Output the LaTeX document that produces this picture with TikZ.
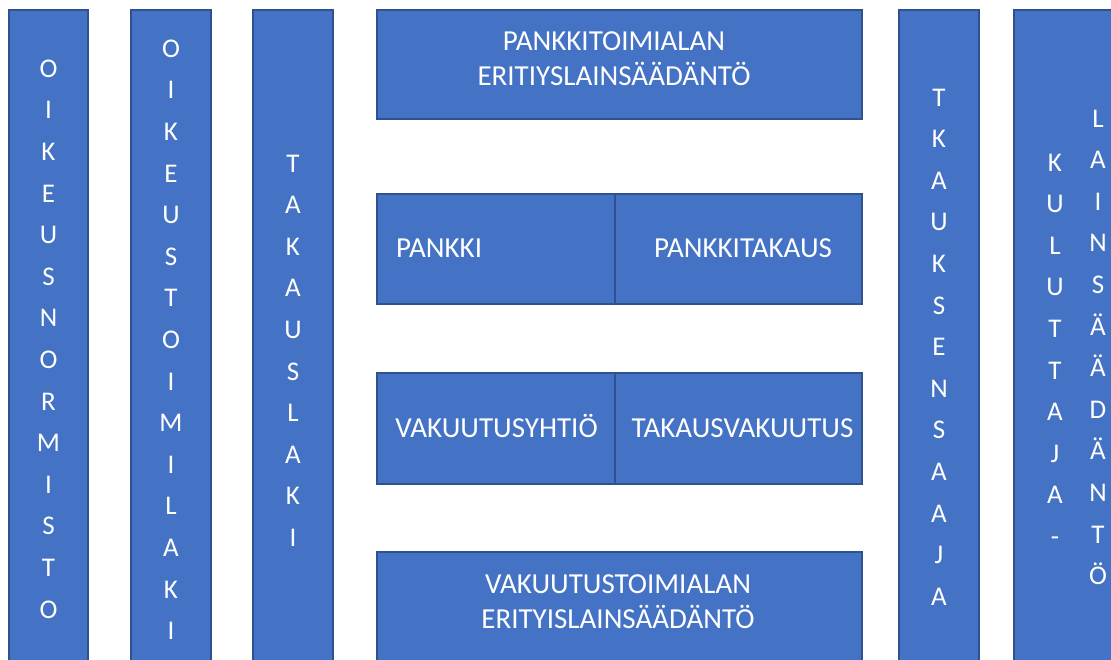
\documentclass[tikz,border=0pt]{standalone}
\usepackage{fontspec}
\setmainfont{Carlito}
\definecolor{boxfill}{HTML}{4472C4}
\definecolor{boxline}{HTML}{2F528F}
\begin{document}
\begin{tikzpicture}[x=1pt,y=-1pt,
  blk/.style={draw=boxline, fill=boxfill, line width=1.8pt, inner sep=0pt, rectangle},
  vtxt/.style={text=white, font=\fontsize{27}{41.6}\selectfont, align=center, inner sep=0pt, anchor=north},
  htxt/.style={text=white, font=\fontsize{29}{35}\selectfont, align=center, inner sep=0pt}]
\useasboundingbox (0,0) rectangle (1111,659);
\clip (0,0) rectangle (1111,659);
% columns
\node[blk, minimum width=79pt, minimum height=665pt] (c1) at (48.5,342.5) {};
\node[blk, minimum width=80pt, minimum height=665pt] (c2) at (171,342.5) {};
\node[blk, minimum width=80pt, minimum height=665pt] (c3) at (293,342.5) {};
\node[blk, minimum width=80pt, minimum height=665pt] (c4) at (939,342.5) {};
\node[blk, minimum width=116pt, minimum height=665pt] (c5) at (1072,342.5) {};
% middle boxes
\node[blk, minimum width=485pt, minimum height=109pt] (top) at (619.5,64.5) {};
\node[blk, minimum width=238pt, minimum height=110pt] (pankki) at (496,249) {};
\node[blk, minimum width=247pt, minimum height=110pt] (ptakaus) at (738.5,249) {};
\node[blk, minimum width=238pt, minimum height=111pt] (vyhtio) at (496,428.5) {};
\node[blk, minimum width=247pt, minimum height=111pt] (tvak) at (738.5,428.5) {};
\node[blk, minimum width=485pt, minimum height=123pt] (bottom) at (619.5,613.5) {};
% column texts
\node[vtxt] (t1) at (48.5,59.5) {O\\I\\K\\E\\U\\S\\N\\O\\R\\M\\I\\S\\T\\O};
\node[vtxt] (t2) at (171,39.5) {O\\I\\K\\E\\U\\S\\T\\O\\I\\M\\I\\L\\A\\K\\I};
\node[vtxt] (t3) at (293,154.5) {T\\A\\K\\A\\U\\S\\L\\A\\K\\I};
\node[vtxt] (t4) at (939,88.5) {T\\K\\A\\U\\K\\S\\E\\N\\S\\A\\A\\J\\A};
\node[vtxt] (t5) at (1055,153.5) {K\\U\\L\\U\\T\\T\\A\\J\\A\\-};
\node[vtxt] (t6) at (1098,109.5) {L\\A\\I\\N\\S\\Ä\\Ä\\D\\Ä\\N\\T\\Ö};
% box texts
\node[htxt, anchor=north] (ttop) at (614,31) {PANKKITOIMIALAN\\ERITIYSLAINSÄÄDÄNTÖ};
\node[htxt, anchor=base west] (tpankki) at (396,257.5) {PANKKI};
\node[htxt, anchor=base] (tptakaus) at (743,257.5) {PANKKITAKAUS};
\node[htxt, anchor=base] (tvyhtio) at (496.5,437) {VAKUUTUSYHTIÖ};
\node[htxt, anchor=base] (ttvak) at (742.5,437) {TAKAUSVAKUUTUS};
\node[htxt, anchor=north] (tbottom) at (618,574) {VAKUUTUSTOIMIALAN\\ERITYISLAINSÄÄDÄNTÖ};
\end{tikzpicture}
\end{document}
